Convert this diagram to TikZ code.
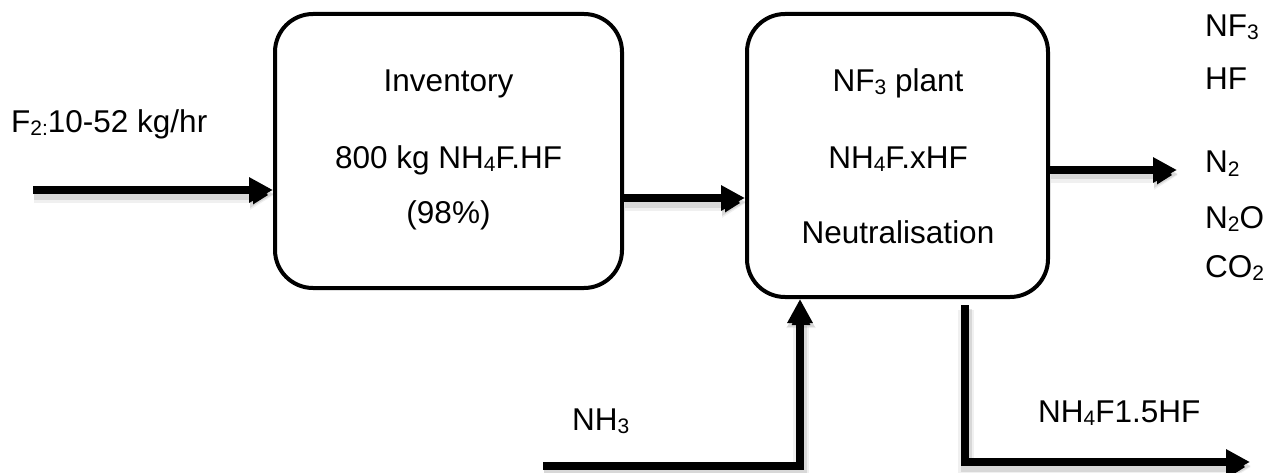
\documentclass[tikz,border=0pt]{standalone}
\usepackage{fontspec}
\setmainfont{Liberation Sans}
\usetikzlibrary{arrows.meta}
\newcommand\sbs[1]{\raisebox{-3pt}{\fontsize{21}{21}\selectfont #1}}
\begin{document}
\begin{tikzpicture}[x=1pt,y=-1pt,
  box/.style={draw=black, line width=4pt, rounded corners=38pt, inner sep=0pt},
  txt/.style={inner sep=0pt, font=\fontsize{31.5}{36}\selectfont},
  flow/.style={line width=8pt, -{Triangle[length=24pt,width=24pt]},
    preaction={draw=black, draw opacity=0.06, line width=16pt, -{Triangle[length=24pt,width=28pt]}, transform canvas={shift={(1pt,-5pt)}}},
    preaction={draw=black, draw opacity=0.10, line width=11pt, -{Triangle[length=24pt,width=26pt]}, transform canvas={shift={(1pt,-4pt)}}}}]
\useasboundingbox (0,0) rectangle (1273,473);
% boxes
\node[box, minimum width=347pt, minimum height=274pt] (inv) at (448.5,151) {};
\node[box, minimum width=301pt, minimum height=283pt] (plant) at (897.5,155.5) {};
% box texts
\node[txt, anchor=base] (t1) at (448.5,91.7) {Inventory};
\node[txt, anchor=base] (t2) at (448.5,168) {800 kg NH\sbs{4}F.HF};
\node[txt, anchor=base] (t3) at (448.5,223) {(98\%)};
\node[txt, anchor=base] (t4) at (898,91.7) {NF\sbs{3} plant};
\node[txt, anchor=base] (t5) at (898,168) {NH\sbs{4}F.xHF};
\node[txt, anchor=base] (t6) at (898,243) {Neutralisation};
% outer labels
\node[txt, anchor=base west] (lf2) at (11,133) {F\sbs{2:}10-52 kg/hr};
\node[txt, anchor=base west] (lnh3) at (572,430) {NH\sbs{3}};
\node[txt, anchor=base west] (lsalt) at (1038,422) {NH\sbs{4}F1.5HF};
\node[txt, anchor=base west] (o1) at (1205,37) {NF\sbs{3}};
\node[txt, anchor=base west] (o2) at (1205,90) {HF};
\node[txt, anchor=base west] (o3) at (1205,173) {N\sbs{2}};
\node[txt, anchor=base west] (o4) at (1205,228) {N\sbs{2}O};
\node[txt, anchor=base west] (o5) at (1205,277) {CO\sbs{2}};
% connector end points
\coordinate (f2in) at (33,190);
\coordinate (mid) at (0,198);
\coordinate (outy) at (0,170);
\coordinate (outend) at (1177,170);
\coordinate (nh3in) at (543,466);
\coordinate (nh3x) at (800,0);
\coordinate (saltstart) at (965,305);
\coordinate (saltend) at (1250,462);
% connectors
\draw[flow] (f2in) -- (inv.west |- f2in);
\draw[flow] (inv.east |- mid) -- (plant.west |- mid);
\draw[flow] (plant.east |- outy) -- (outend);
\draw[flow] (nh3in) -| (plant.south -| nh3x);
\draw[flow] (saltstart) |- (saltend);
\end{tikzpicture}
\end{document}
